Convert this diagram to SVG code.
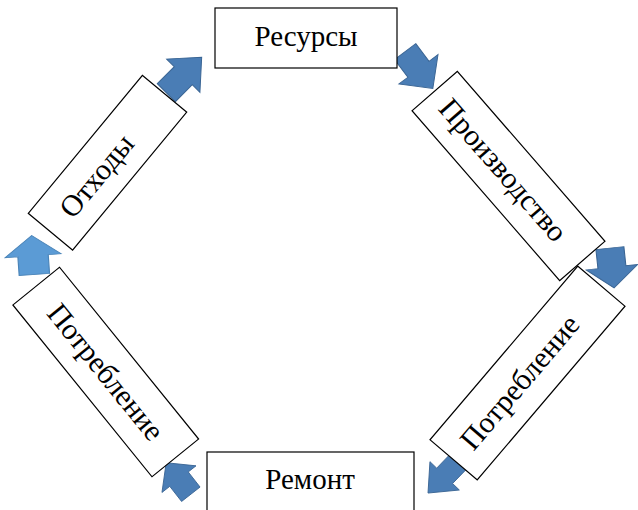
<svg xmlns="http://www.w3.org/2000/svg" width="638" height="510" viewBox="0 0 638 510">
<style>
.box{fill:#ffffff;stroke:#000000;stroke-width:1.2}
.lbl{font-family:"Liberation Serif","Times New Roman",serif;fill:#000000;text-anchor:middle}
.dk{fill:#4a7db5;stroke:#3a6594;stroke-width:1}
.lt{fill:#5b9bd5;stroke:#4a84b8;stroke-width:1}
</style>
<defs>
<path id="arr" d="M-25,-13 H-1 V-24 L25,0 L-1,24 V13 H-25 Z"/>
</defs>
<g id="connectors">
<use href="#arr" class="dk" transform="translate(184,75) rotate(-45) scale(1,0.98)"/>
<use href="#arr" class="dk" transform="translate(419,70) rotate(53) scale(0.92,1.02)"/>
<use href="#arr" class="dk" transform="translate(612,268) rotate(84) scale(0.8,1.08)"/>
<use href="#arr" class="dk" transform="translate(444,476.5) rotate(134) scale(0.92,0.85)"/>
<use href="#arr" class="dk" transform="translate(178.5,478.5) rotate(-128) scale(0.8,0.9)"/>
<use href="#arr" class="lt" transform="translate(33,255) rotate(-94) scale(0.78,1.17)"/>
</g>
<g id="node-resursy">
<rect class="box" x="215" y="8" width="182" height="60"/>
<text class="lbl" x="306" y="46" font-size="29">Ресурсы</text>
</g>
<g id="node-proizvodstvo" transform="translate(508.5,176) rotate(49)">
<rect class="box" x="-112.5" y="-30" width="225" height="60"/>
<text class="lbl" x="-8" y="10" font-size="30">Производство</text>
</g>
<g id="node-potreblenie-right" transform="translate(527.5,373) rotate(-49.6)">
<rect class="box" x="-114" y="-31" width="228" height="62"/>
<text class="lbl" x="-12" y="10" font-size="30">Потребление</text>
</g>
<g id="node-remont">
<rect class="box" x="207" y="452" width="207" height="64"/>
<text class="lbl" x="310" y="489" font-size="29">Ремонт</text>
</g>
<g id="node-potreblenie-left" transform="translate(105.75,372) rotate(51)">
<rect class="box" x="-110.5" y="-30" width="221" height="60"/>
<text class="lbl" x="0" y="10" font-size="30">Потребление</text>
</g>
<g id="node-othody" transform="translate(107.5,162.75) rotate(-50.4)">
<rect class="box" x="-89.5" y="-28.75" width="179" height="57.5"/>
<text class="lbl" x="-17" y="10" font-size="30">Отходы</text>
</g>
</svg>
